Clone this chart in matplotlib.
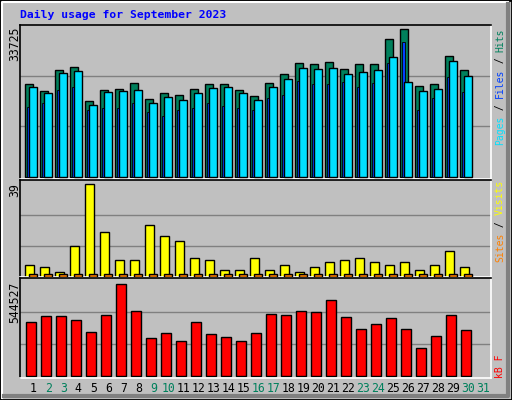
import matplotlib
matplotlib.use("Agg")
import matplotlib.pyplot as plt
import numpy as np
from matplotlib.patches import Rectangle

days = list(range(1, 32))
hits = [20679,19180,23812,24484,16875,19336,19560,20903,17322,18665,18217,19560,20679,20679,19336,17994,
        20903,22917,25379,25155,25603,24036,25155,25155,30750,32988,20232,20679,26945,23812,0]
files = [20008,18665,23141,23589,15979,18889,19113,19336,16427,17770,17098,18665,19784,20008,18665,17098,
         20008,21798,24260,24036,24260,22917,23365,23812,26722,21127,19113,19560,25827,22470,0]
pages = [15532,16427,19336,20008,14860,15308,15308,16427,14413,13518,14860,15308,16427,15756,15308,14860,
         17546,18217,21351,20679,20679,21127,20008,20903,25379,30079,14860,17546,22246,18889,0]
visits = [5,4,2,13,39,19,7,7,22,17,15,8,7,3,3,8,3,5,2,4,6,7,8,6,5,6,3,5,11,4,0]
sites = [1]*30 + [0]
kbytes = [305700,340087,340087,317160,254110,345819,523504,368746,219719,248378,202524,305700,242646,225451,
          202524,248378,351550,345819,368746,363014,431796,334355,271305,299964,328623,271305,162401,231183,
          345819,265573,0]
weekend = [2,3,9,10,16,17,23,24,30,31]
max_hits, max_visits, max_kb = 33725, 39, 544527

W, H = 512, 400
BG = "#C0C0C0"
fig = plt.figure(figsize=(W/100, H/100), dpi=100, facecolor=BG)
mono = "DejaVu Sans Mono"

def px_axes(x0, y0, x1, y1):
    ax = fig.add_axes([x0/W, 1-y1/H, (x1-x0)/W, (y1-y0)/H])
    ax.set_facecolor(BG)
    for s in ("top", "left"):
        ax.spines[s].set_color("black")
    for s in ("bottom", "right"):
        ax.spines[s].set_color("white")
    for s in ax.spines.values():
        s.set_linewidth(1.2)
    ax.set_xticks([]); ax.set_yticks([])
    x0d = 1 - 5/15
    ax.set_xlim(x0d, x0d + (x1-x0)/15)
    return ax

d = np.array(days, dtype=float)
ec = dict(edgecolor="black", linewidth=1.0)

def nz(vals):
    v = np.array(vals, dtype=float)
    m = v > 0
    return m, v

# top panel
ax1 = px_axes(20, 25, 491, 179)
u = max_hits/150.7
ax1.set_ylim(-(179-176.7)*u, max_hits + 1*u)
for g in (max_hits/3, 2*max_hits/3):
    ax1.axhline(g, color="#808080", lw=1, zorder=0)
m, v = nz(hits); ax1.bar(d[m], v[m], width=8/15, align="edge", color="#00805C", **ec, zorder=2)
m, v = nz(pages); ax1.bar(d[m]+2/15, v[m], width=3/15, align="edge", color="#0040FF", edgecolor="black", linewidth=0.6, zorder=3)
m, v = nz(files); ax1.bar(d[m]+4/15, v[m], width=8/15, align="edge", color="#00E0FF", **ec, zorder=4)

# middle panel
ax2 = px_axes(20, 180, 491, 277)
u2 = max_visits/92.3
ax2.set_ylim(-0.3*u2, max_visits + 4.3*u2)
for g in (max_visits/3, 2*max_visits/3):
    ax2.axhline(g, color="#808080", lw=1, zorder=0)
m, v = nz(visits); ax2.bar(d[m], v[m], width=8.5/15, align="edge", color="#FFFF00", **ec, zorder=2)
m, v = nz(sites); ax2.bar(d[m]+4/15, v[m], width=8/15, align="edge", color="#FF8000", **ec, zorder=3)

# bottom panel
ax3 = px_axes(20, 278, 491, 378)
u3 = max_kb/95.3
ax3.set_ylim(-2*u3, max_kb + 2.7*u3)
for g in (max_kb/3, 2*max_kb/3):
    ax3.axhline(g, color="#808080", lw=1, zorder=0)
m, v = nz(kbytes); ax3.bar(d[m]+1/15, v[m], width=10/15, align="edge", color="#FF0000", **ec, zorder=2)

# day labels
for day in days:
    xp = 20 + (day - (1 - 5/15) + 0.55) * 15
    fig.text(xp/W, 1-389/H, str(day), ha="center", va="center", family=mono, fontsize=8.3,
             color="#00805C" if day in weekend else "black")

# y max labels
for txt, ytop in ((str(max_hits), 27), (str(max_visits), 183), (str(max_kb), 282)):
    fig.text(15/W, 1-ytop/H, txt, rotation=90, ha="center", va="top", family=mono, fontsize=8.3)

# title
fig.text(20/W, 1-15/H, "Daily usage for September 2023", ha="left", va="center", family=mono,
         fontsize=8.2, fontweight="bold", color="#0000FF")

def side(segs, ybottom, fs=7.0):
    cw = 0.6 * fs * 100 / 72
    k = 0
    for s, c in segs:
        fig.text(500/W, 1-(ybottom - k*cw)/H, s, rotation=90, ha="center", va="bottom",
                 family=mono, fontsize=fs, color=c)
        k += len(s)

side([("Pages", "#00E0FF"), (" / ", "black"), ("Files", "#0040FF"), (" / ", "black"), ("Hits", "#00805C")], 145)
side([("Sites", "#FF8000"), (" / ", "black"), ("Visits", "#FFFF00")], 262)
side([("kB F", "#FF0000")], 378)

# frame / bevel
fig.patches.append(Rectangle((0, 0), 1, 1, transform=fig.transFigure, fill=False, edgecolor="black", lw=2))
fig.add_artist(plt.Line2D([2/W, 2/W, 508/W], [2/H, 1-2/H, 1-2/H], transform=fig.transFigure, color="white", lw=1.5))
fig.add_artist(plt.Line2D([4/W, 508/W, 508/W], [4/H, 4/H, 1-4/H], transform=fig.transFigure, color="#808080", lw=3))

fig.savefig("out.png", dpi=100, facecolor=BG)
